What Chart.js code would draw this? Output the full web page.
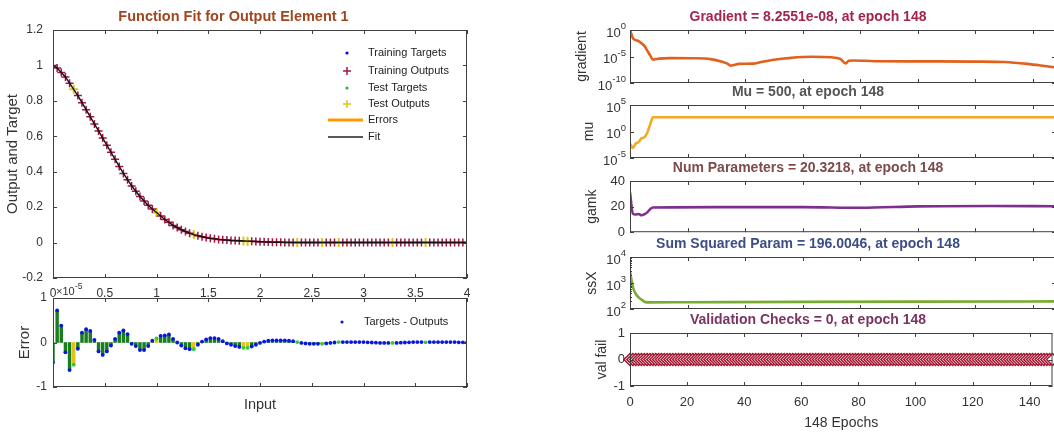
<!DOCTYPE html>
<html>
<head>
<meta charset="utf-8">
<script src="https://cdn.jsdelivr.net/npm/chart.js@4.4.0/dist/chart.umd.min.js"></script>
<style>
html, body { margin: 0; padding: 0; background: #fff; width: 1054px; height: 432px; overflow: hidden; position: relative; }
canvas { position: absolute; }
</style>
</head>
<body>
<canvas id="fitChart" width="480" height="300" style="left:0;top:0"></canvas>
<canvas id="errChart" width="480" height="152" style="left:0;top:280px"></canvas>
<canvas id="gradChart" width="500" height="93" style="left:560px;top:0"></canvas>
<canvas id="muChart" width="500" height="93" style="left:560px;top:75px"></canvas>
<canvas id="gamkChart" width="500" height="94" style="left:560px;top:151px"></canvas>
<canvas id="ssxChart" width="500" height="92" style="left:560px;top:227px"></canvas>
<canvas id="valChart" width="500" height="129" style="left:560px;top:303px"></canvas>
<script>
// ---- function fit data (input is x1e-5, errors are x1e-5) ----
const inputs = [
  0, 0.04, 0.08, 0.12, 0.16, 0.2, 0.24, 0.28, 0.32, 0.36,
  0.4, 0.44, 0.48, 0.52, 0.56, 0.6, 0.64, 0.68, 0.72, 0.76,
  0.8, 0.84, 0.88, 0.92, 0.96, 1, 1.04, 1.08, 1.12, 1.16,
  1.2, 1.24, 1.28, 1.32, 1.36, 1.4, 1.44, 1.48, 1.52, 1.56,
  1.6, 1.64, 1.68, 1.72, 1.76, 1.8, 1.84, 1.88, 1.92, 1.96,
  2, 2.04, 2.08, 2.12, 2.16, 2.2, 2.24, 2.28, 2.32, 2.36,
  2.4, 2.44, 2.48, 2.52, 2.56, 2.6, 2.64, 2.68, 2.72, 2.76,
  2.8, 2.84, 2.88, 2.92, 2.96, 3, 3.04, 3.08, 3.12, 3.16,
  3.2, 3.24, 3.28, 3.32, 3.36, 3.4, 3.44, 3.48, 3.52, 3.56,
  3.6, 3.64, 3.68, 3.72, 3.76, 3.8, 3.84, 3.88, 3.92, 3.96,
  4
];
const targets = [
  1, 0.985, 0.96, 0.935, 0.9, 0.865, 0.83, 0.79, 0.75, 0.71,
  0.67, 0.63, 0.59, 0.55, 0.51, 0.47, 0.43, 0.39, 0.355, 0.32,
  0.29, 0.26, 0.235, 0.21, 0.19, 0.17, 0.15, 0.13, 0.115, 0.097,
  0.085, 0.073, 0.062, 0.053, 0.045, 0.039, 0.033, 0.028, 0.024, 0.021,
  0.018, 0.016, 0.014, 0.012, 0.011, 0.01, 0.009, 0.008, 0.007, 0.006,
  0.005, 0.004, 0.003, 0.0025, 0.002, 0.0015, 0.001, 0.001, 0.0007, 0.0005,
  0.0004, 0.0003, 0.0002, 0.0001, 0, 0, 0, 0, 0, 0,
  0, 0, 0, 0, 0, 0, 0, 0, 0, 0,
  0, 0, 0, 0, 0, 0, 0, 0, 0, 0,
  0, 0, 0, 0, 0, 0, 0, 0, 0, 0,
  0
];
const errors = [
  -0.45, 0.72, 0.38, -0.22, -0.62, -0.5, -0.14, 0.22, 0.3, 0.26,
  0.06, -0.2, -0.28, -0.2, -0.07, 0.08, 0.22, 0.27, 0.19, -0.03,
  -0.08, -0.17, -0.17, -0.08, 0.04, 0.09, 0.15, 0.16, 0.18, 0.08,
  0, -0.07, -0.13, -0.15, -0.15, -0.05, 0.02, 0.07, 0.1, 0.1,
  0.08, 0.03, -0.02, -0.05, -0.08, -0.1, -0.12, -0.12, -0.09, -0.05,
  -0.01, 0.02, 0.04, 0.05, 0.05, 0.05, 0.05, 0.04, 0.03, 0.01,
  -0.01, -0.02, -0.03, -0.03, -0.03, -0.03, -0.02, -0.01, 0, 0.01,
  0.01, 0.01, 0.01, 0.01, 0.01, 0.01, 0.005, 0, -0.005, -0.01,
  -0.01, -0.01, -0.01, -0.01, -0.005, 0, 0.005, 0.01, 0.01, 0.01,
  0.005, 0.01, 0.01, 0.01, 0.01, 0.01, 0.01, 0.01, 0.005, 0.005,
  0
];
const testIndex = [5, 25, 34, 46, 47, 59, 65, 69, 82, 90];

const fitXTicks = [0, 0.5, 1, 1.5, 2, 2.5, 3, 3.5, 4];
const fitYTicks = [-0.2, 0, 0.2, 0.4, 0.6, 0.8, 1, 1.2];
const errYTicks = [-1, 0, 1];

// ---- training record (per epoch) ----
const gradEpochs = [0, 1, 2, 3, 4, 5, 6, 7, 8, 9, 10, 14, 22, 28, 32, 34, 35, 36, 38, 43, 46, 50, 56, 63, 70, 73, 75, 76, 78, 85, 100, 120, 130, 138, 144, 148];
const gradValues = [1, 3e-2, 1.2e-2, 8e-3, 3e-3, 1e-3, 1.3e-4, 1.6e-5, 2.5e-6, 3.2e-6, 4e-6, 5e-6, 4.7e-6, 3.2e-6, 1e-6, 4e-7, 1.8e-7, 2.5e-7, 4e-7, 4.5e-7, 1e-6, 2.5e-6, 5.6e-6, 9e-6, 7e-6, 3.5e-6, 5e-7, 1.6e-6, 1.8e-6, 1.3e-6, 1.2e-6, 1.1e-6, 9e-7, 4e-7, 1.6e-7, 8.2551e-8];

const muEpochs = [0, 1, 2, 3, 4, 5, 6, 7, 8, 148];
const muValues = [5e-3, 8e-4, 5e-3, 1e-2, 5e-2, 8e-2, 0.6, 20, 500, 500];

const gamkEpochs = [0, 1, 2, 3, 4, 5, 6, 7, 8, 30, 60, 80, 100, 125, 148];
const gamkValues = [31, 14.5, 13.8, 14.2, 13.2, 14, 15.5, 18, 19.3, 19.6, 19.6, 19.1, 20.2, 20.5, 20.3218];

const ssxEpochs = [0, 1, 2, 3, 4, 5, 6, 20, 60, 100, 148];
const ssxValues = [2800, 700, 380, 280, 230, 190, 180, 182, 188, 192, 196.0046];

const valEpochs = [
  0, 1, 2, 3, 4, 5, 6, 7, 8, 9,
  10, 11, 12, 13, 14, 15, 16, 17, 18, 19,
  20, 21, 22, 23, 24, 25, 26, 27, 28, 29,
  30, 31, 32, 33, 34, 35, 36, 37, 38, 39,
  40, 41, 42, 43, 44, 45, 46, 47, 48, 49,
  50, 51, 52, 53, 54, 55, 56, 57, 58, 59,
  60, 61, 62, 63, 64, 65, 66, 67, 68, 69,
  70, 71, 72, 73, 74, 75, 76, 77, 78, 79,
  80, 81, 82, 83, 84, 85, 86, 87, 88, 89,
  90, 91, 92, 93, 94, 95, 96, 97, 98, 99,
  100, 101, 102, 103, 104, 105, 106, 107, 108, 109,
  110, 111, 112, 113, 114, 115, 116, 117, 118, 119,
  120, 121, 122, 123, 124, 125, 126, 127, 128, 129,
  130, 131, 132, 133, 134, 135, 136, 137, 138, 139,
  140, 141, 142, 143, 144, 145, 146, 147, 148
];
const valFail = [
  0, 0, 0, 0, 0, 0, 0, 0, 0, 0,
  0, 0, 0, 0, 0, 0, 0, 0, 0, 0,
  0, 0, 0, 0, 0, 0, 0, 0, 0, 0,
  0, 0, 0, 0, 0, 0, 0, 0, 0, 0,
  0, 0, 0, 0, 0, 0, 0, 0, 0, 0,
  0, 0, 0, 0, 0, 0, 0, 0, 0, 0,
  0, 0, 0, 0, 0, 0, 0, 0, 0, 0,
  0, 0, 0, 0, 0, 0, 0, 0, 0, 0,
  0, 0, 0, 0, 0, 0, 0, 0, 0, 0,
  0, 0, 0, 0, 0, 0, 0, 0, 0, 0,
  0, 0, 0, 0, 0, 0, 0, 0, 0, 0,
  0, 0, 0, 0, 0, 0, 0, 0, 0, 0,
  0, 0, 0, 0, 0, 0, 0, 0, 0, 0,
  0, 0, 0, 0, 0, 0, 0, 0, 0, 0,
  0, 0, 0, 0, 0, 0, 0, 0, 0
];

const epochTicks = [0, 20, 40, 60, 80, 100, 120, 140];
const gradTicks = [1e-10, 1e-5, 1];
const muTicks = [1e-5, 1, 1e5];
const gamkTicks = [0, 20, 40];
const ssxTicks = [100, 1000, 10000];
const valTicks = [-1, 0, 1];

const FONT = '"Liberation Sans", Arial, Helvetica, sans-serif';
Chart.defaults.font.family = FONT;
Chart.defaults.color = '#333';
Chart.defaults.animation = false;

// matlab style box with inward ticks (+ 10^n labels for log axes)
const axesBox = {
  id: 'axesBox',
  afterDraw(chart, args, opts) {
    const { ctx, chartArea: a } = chart;
    const xs = chart.scales.x, ys = chart.scales.y;
    const len = 4;
    ctx.save();
    ctx.strokeStyle = '#404040';
    ctx.lineWidth = 1;
    ctx.strokeRect(a.left + 0.5, a.top + 0.5, a.right - a.left - 1, a.bottom - a.top - 1);
    ctx.beginPath();
    xs.ticks.forEach(t => {
      const px = Math.round(xs.getPixelForValue(t.value)) + 0.5;
      ctx.moveTo(px, a.bottom); ctx.lineTo(px, a.bottom - len);
      ctx.moveTo(px, a.top); ctx.lineTo(px, a.top + len);
    });
    ys.ticks.forEach(t => {
      const py = Math.round(ys.getPixelForValue(t.value)) + 0.5;
      ctx.moveTo(a.left, py); ctx.lineTo(a.left + len, py);
      ctx.moveTo(a.right, py); ctx.lineTo(a.right - len, py);
    });
    if (opts.minor) {
      for (let d = ys.min; d < ys.max; d *= 10) {
        for (let k = 2; k < 10; k++) {
          const py = Math.round(ys.getPixelForValue(d * k)) + 0.5;
          ctx.moveTo(a.left, py); ctx.lineTo(a.left + 2, py);
          ctx.moveTo(a.right, py); ctx.lineTo(a.right - 2, py);
        }
      }
    }
    ctx.stroke();
    if (opts.powLabels) {
      ctx.fillStyle = '#333';
      ctx.textBaseline = 'alphabetic';
      ctx.textAlign = 'left';
      ys.ticks.forEach(t => {
        const py = ys.getPixelForValue(t.value);
        const ex = String(Math.round(Math.log10(t.value)));
        ctx.font = '9.5px ' + FONT;
        const w2 = ctx.measureText(ex).width;
        ctx.font = '13px ' + FONT;
        const w1 = ctx.measureText('10').width;
        const end = a.left - 4;
        ctx.fillText('10', end - w2 - w1, py + 6.5);
        ctx.font = '9.5px ' + FONT;
        ctx.fillText(ex, end - w2, py - 1);
      });
    }
    ctx.restore();
  }
};

// hand drawn legend entries and loose texts
const keyBox = {
  id: 'keyBox',
  afterDraw(chart, args, opts) {
    const ctx = chart.ctx;
    ctx.save();
    ctx.textBaseline = 'middle';
    (opts.items || []).forEach(it => {
      if (it.kind === 'line') {
        ctx.strokeStyle = it.color; ctx.lineWidth = it.width;
        ctx.beginPath(); ctx.moveTo(it.x - 19, it.y); ctx.lineTo(it.x + 16, it.y); ctx.stroke();
      } else if (it.kind === 'cross') {
        ctx.strokeStyle = it.color; ctx.lineWidth = 1.5;
        ctx.beginPath();
        ctx.moveTo(it.x - 4, it.y); ctx.lineTo(it.x + 4, it.y);
        ctx.moveTo(it.x, it.y - 4); ctx.lineTo(it.x, it.y + 4);
        ctx.stroke();
      } else {
        ctx.fillStyle = it.color;
        ctx.beginPath(); ctx.arc(it.x, it.y, 1.6, 0, Math.PI * 2); ctx.fill();
      }
      ctx.fillStyle = '#222';
      ctx.font = '11px ' + FONT;
      ctx.fillText(it.label, opts.textX, it.y);
    });
    (opts.texts || []).forEach(t => {
      ctx.fillStyle = '#333';
      ctx.font = t.size + 'px ' + FONT;
      ctx.textBaseline = 'alphabetic';
      ctx.fillText(t.text, t.x, t.y);
    });
    ctx.restore();
  }
};
Chart.register(axesBox, keyBox);

function setTicks(list) {
  return s => { s.ticks = list.map(v => ({ value: v })); };
}
const plainLabel = v => String(v);
const noGrid = { display: false, drawTicks: false };

// ---------- function fit ----------
const isTest = inputs.map((v, i) => testIndex.includes(i));
const outputs = targets.map((t, i) => t - errors[i] * 1e-5);
const pick = (arr, want) => inputs.map((x, i) => ({ x: x, y: arr[i] })).filter((p, i) => isTest[i] === want);

new Chart(document.getElementById('fitChart'), {
  type: 'scatter',
  data: {
    datasets: [
      { label: 'Fit', data: inputs.map((x, i) => ({ x: x, y: outputs[i] })), showLine: true, borderColor: '#111', borderWidth: 1.4, pointRadius: 0 },
      { label: 'Training Outputs', data: pick(outputs, false), pointStyle: 'cross', pointRadius: 4, borderColor: '#a8163f', borderWidth: 1.5 },
      { label: 'Test Outputs', data: pick(outputs, true), pointStyle: 'cross', pointRadius: 4.5, borderColor: '#d8c814', borderWidth: 2 },
      { label: 'Training Targets', data: pick(targets, false), pointRadius: 1, backgroundColor: '#0000ff', borderWidth: 0 },
      { label: 'Test Targets', data: pick(targets, true), pointRadius: 1, backgroundColor: '#22bb22', borderWidth: 0 }
    ]
  },
  options: {
    responsive: false,
    layout: { padding: { right: 13 } },
    plugins: {
      legend: { display: false },
      tooltip: { enabled: false },
      title: { display: true, text: 'Function Fit for Output Element 1', color: '#a2461e', font: { size: 14.5, weight: 'bold' }, padding: { top: 8, bottom: 4.6 } },
      keyBox: {
        textX: 368,
        items: [
          { label: 'Training Targets', kind: 'dot', color: '#0000ff', x: 347, y: 53 },
          { label: 'Training Outputs', kind: 'cross', color: '#a8163f', x: 347, y: 71 },
          { label: 'Test Targets', kind: 'dot', color: '#22bb22', x: 347, y: 88 },
          { label: 'Test Outputs', kind: 'cross', color: '#d8c814', x: 347, y: 104 },
          { label: 'Errors', kind: 'line', color: '#ff9a00', width: 3, x: 347, y: 120 },
          { label: 'Fit', kind: 'line', color: '#222', width: 1.6, x: 347, y: 137 }
        ]
      }
    },
    scales: {
      x: {
        type: 'linear', min: 0, max: 4, grid: noGrid, border: { display: false },
        afterBuildTicks: setTicks(fitXTicks),
        ticks: { font: { size: 12 }, padding: 8, maxRotation: 0, autoSkip: false, callback: plainLabel },
        afterFit: s => { s.height = 22; }
      },
      y: {
        min: -0.2, max: 1.2, grid: noGrid, border: { display: false },
        afterBuildTicks: setTicks(fitYTicks),
        ticks: { font: { size: 12 }, padding: 10, autoSkip: false, callback: plainLabel },
        title: { display: true, text: 'Output and Target', font: { size: 15 }, padding: { top: 4, bottom: 0 } },
        afterFit: s => { s.width = 53; }
      }
    }
  }
});

// ---------- error stems ----------
new Chart(document.getElementById('errChart'), {
  type: 'bar',
  data: {
    datasets: [
      {
        type: 'scatter', label: 'Targets - Outputs',
        data: inputs.map((x, i) => ({ x: x, y: errors[i] })),
        pointRadius: 1.9, borderWidth: 0,
        backgroundColor: isTest.map(t => t ? '#33cc33' : '#0a14e6')
      },
      {
        label: 'Errors',
        data: inputs.map((x, i) => ({ x: x, y: errors[i] })),
        barThickness: 2.8,
        backgroundColor: isTest.map(t => t ? '#e2c21a' : '#1b7d1f')
      }
    ]
  },
  options: {
    responsive: false,
    layout: { padding: { top: 18, right: 13 } },
    plugins: {
      legend: { display: false },
      tooltip: { enabled: false },
      keyBox: {
        textX: 364,
        items: [{ label: 'Targets - Outputs', kind: 'dot', color: '#0a14e6', x: 342, y: 42 }],
        texts: [{ text: '\u00D710', x: 56, y: 15, size: 11 }, { text: '-5', x: 75, y: 9, size: 8.5 }]
      }
    },
    scales: {
      x: {
        type: 'linear', min: 0, max: 4, offset: false, grid: noGrid, border: { display: false },
        afterBuildTicks: setTicks(fitXTicks),
        ticks: { display: false },
        title: { display: true, text: 'Input', font: { size: 14.5 }, padding: { top: 0, bottom: 18 } },
        afterFit: s => { s.height = 45; }
      },
      y: {
        min: -1, max: 1, grid: noGrid, border: { display: false },
        afterBuildTicks: setTicks(errYTicks),
        ticks: { font: { size: 12 }, padding: 6, callback: plainLabel },
        title: { display: true, text: 'Error', font: { size: 15 }, padding: { top: 16, bottom: 0 } },
        afterFit: s => { s.width = 53; }
      }
    }
  }
});

// ---------- training state panels ----------
function trainPanel(id, o) {
  const isLog = o.yType === 'logarithmic';
  const xOpts = {
    type: 'linear', min: 0, max: 148, grid: noGrid, border: { display: false },
    afterBuildTicks: setTicks(epochTicks),
    ticks: { display: !!o.xTitle, font: { size: 13 }, padding: 9, maxRotation: 0, autoSkip: false, callback: plainLabel },
    afterFit: s => { s.height = o.xHeight; }
  };
  if (o.xTitle) xOpts.title = { display: true, text: o.xTitle, font: { size: 14 }, padding: { top: 0, bottom: 0 } };
  return new Chart(document.getElementById(id), {
    type: 'line',
    data: { datasets: o.datasets },
    options: {
      responsive: false,
      layout: { padding: { right: 4 } },
      plugins: {
        legend: { display: false },
        tooltip: { enabled: false },
        title: { display: true, text: o.title, color: o.titleColor, font: { size: 14, weight: 'bold' }, padding: { top: 8.6, bottom: 4.6 } },
        axesBox: { minor: !!o.minor, powLabels: isLog }
      },
      scales: {
        x: xOpts,
        y: {
          type: o.yType, min: o.yMin, max: o.yMax, grid: noGrid, border: { display: false },
          afterBuildTicks: setTicks(o.yTicks),
          ticks: { display: !isLog, font: { size: 13 }, padding: 5, autoSkip: false, callback: plainLabel },
          title: { display: true, text: o.yTitle, font: { size: 14 }, padding: { top: o.yTitlePad, bottom: 0 } },
          afterFit: s => { s.width = 70; }
        }
      }
    }
  });
}
function curve(xs, ys, color) {
  return {
    data: xs.map((x, i) => ({ x: x, y: ys[i] })),
    borderColor: color, borderWidth: 2.6, pointRadius: 0,
    cubicInterpolationMode: 'monotone'
  };
}

trainPanel('gradChart', {
  title: 'Gradient = 8.2551e-08, at epoch 148', titleColor: '#a5244a',
  yType: 'logarithmic', yMin: 1e-10, yMax: 1, yTicks: gradTicks, yTitle: 'gradient', yTitlePad: 13.6,
  xHeight: 10,
  datasets: [curve(gradEpochs, gradValues, '#e0601c')]
});
trainPanel('muChart', {
  title: 'Mu = 500, at epoch 148', titleColor: '#555555',
  yType: 'logarithmic', yMin: 1e-5, yMax: 1e5, yTicks: muTicks, yTitle: 'mu', yTitlePad: 20.6,
  xHeight: 10,
  datasets: [curve(muEpochs, muValues, '#f2aa22')]
});
trainPanel('gamkChart', {
  title: 'Num Parameters = 20.3218, at epoch 148', titleColor: '#7c4b4b',
  yType: 'linear', yMin: 0, yMax: 40, yTicks: gamkTicks, yTitle: 'gamk', yTitlePad: 23.6,
  xHeight: 10,
  datasets: [curve(gamkEpochs, gamkValues, '#7e2f8e')]
});
trainPanel('ssxChart', {
  title: 'Sum Squared Param = 196.0046, at epoch 148', titleColor: '#3d4d86',
  yType: 'logarithmic', yMin: 100, yMax: 10000, yTicks: ssxTicks, yTitle: 'ssX', yTitlePad: 23.6,
  xHeight: 10, minor: true,
  datasets: [curve(ssxEpochs, ssxValues, '#77ac30')]
});
trainPanel('valChart', {
  title: 'Validation Checks = 0, at epoch 148', titleColor: '#7b3461',
  yType: 'linear', yMin: -1, yMax: 1, yTicks: valTicks, yTitle: 'val fail', yTitlePad: 33.6,
  xHeight: 46, xTitle: '148 Epochs',
  datasets: [{
    data: valEpochs.map((x, i) => ({ x: x, y: valFail[i] })),
    showLine: false, pointStyle: 'rectRot', pointRadius: 6,
    borderColor: '#a2142f', backgroundColor: '#ffffff', borderWidth: 1.5, clip: false
  }]
});
</script>
</body>
</html>
